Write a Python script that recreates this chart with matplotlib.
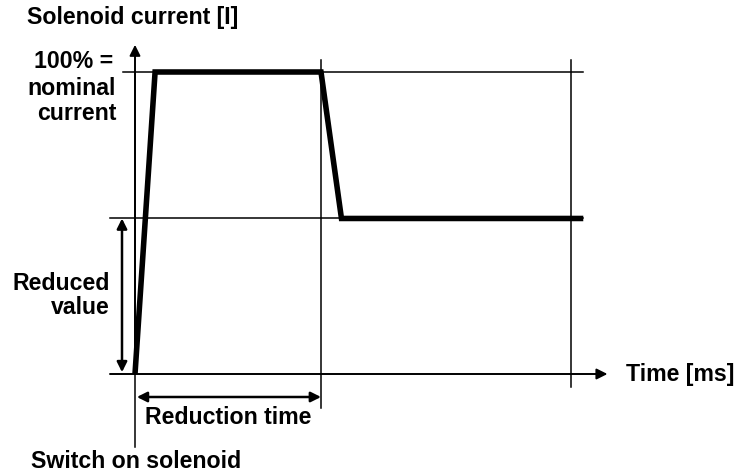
import matplotlib
matplotlib.use("Agg")
import matplotlib.pyplot as plt

# Data (time in ms-units, current in % of nominal)
time_pts = [0, 1.08, 10.0, 11.1, 24.1]
current_pts = [0, 100, 100, 51.5, 51.5]
nominal = 100
reduced = 51.5
reduction_time = 10.0
end_marker = 23.45
grid_end = 24.1
axis_tip_t = 25.4
axis_tip_i = 109

plt.rcParams['font.family'] = ['Liberation Sans', 'DejaVu Sans']

fig = plt.figure(figsize=(7.35, 4.75), dpi=100)
ax = fig.add_axes([0, 0, 1, 1])
kx, ky = 18.6, 3.02
x0, y0 = 135, 374
ax.set_xlim(-x0 / kx, (735 - x0) / kx)
ax.set_ylim((y0 - 475) / ky, y0 / ky)
ax.axis('off')

thin = dict(color='black', lw=1.1)
# horizontal guides
ax.plot([(123 - x0) / kx, grid_end], [nominal, nominal], **thin)
ax.plot([(110 - x0) / kx, grid_end], [reduced, reduced], **thin)
# verticals
ax.plot([0, 0], [(y0 - 447) / ky, 100], **thin)
ax.plot([reduction_time, reduction_time], [(y0 - 408) / ky, (y0 - 60) / ky], **thin)
ax.plot([end_marker, end_marker], [(y0 - 387) / ky, (y0 - 60) / ky], **thin)

# axes arrows
ax.annotate('', xy=(0, axis_tip_i), xytext=(0, 0),
            arrowprops=dict(arrowstyle='-|>', color='black', lw=1.4, mutation_scale=16, shrinkA=0, shrinkB=0))
ax.annotate('', xy=(axis_tip_t, 0), xytext=((110 - x0) / kx, 0),
            arrowprops=dict(arrowstyle='-|>', color='black', lw=1.4, mutation_scale=16, shrinkA=0, shrinkB=0))

# double arrows
xr = (122 - x0) / kx
ax.annotate('', xy=(xr, reduced), xytext=(xr, 0.6),
            arrowprops=dict(arrowstyle='<|-|>', color='black', lw=1.8, mutation_scale=15, shrinkA=0, shrinkB=0))
yr = (y0 - 397) / ky
ax.annotate('', xy=(0.1, yr), xytext=(reduction_time, yr),
            arrowprops=dict(arrowstyle='<|-|>', color='black', lw=1.8, mutation_scale=15, shrinkA=0, shrinkB=0))

# current curve
ax.plot(time_pts, current_pts, color='black', lw=4.0, solid_joinstyle='miter', solid_capstyle='butt')

fs = 16.7
def px(x, y):
    return ((x - x0) / kx, (y0 - y) / ky)

kw = dict(fontsize=fs, fontweight='bold', va='center')
ax.text(*px(27, 17), 'Solenoid current [I]', ha='left', **kw)
ax.text(*px(113, 62), '100% =', ha='right', **kw)
ax.text(*px(116, 88), 'nominal', ha='right', **kw)
ax.text(*px(116, 113), 'current', ha='right', **kw)
ax.text(*px(110, 283), 'Reduced', ha='right', **kw)
ax.text(*px(110, 308), 'value', ha='right', **kw)
ax.text(*px(228, 417), 'Reduction time', ha='center', **kw)
ax.text(*px(31, 461), 'Switch on solenoid', ha='left', **kw)
ax.text(*px(626, 375), 'Time [ms]', ha='left', **kw)

fig.savefig('out.png', dpi=100, facecolor='white')
